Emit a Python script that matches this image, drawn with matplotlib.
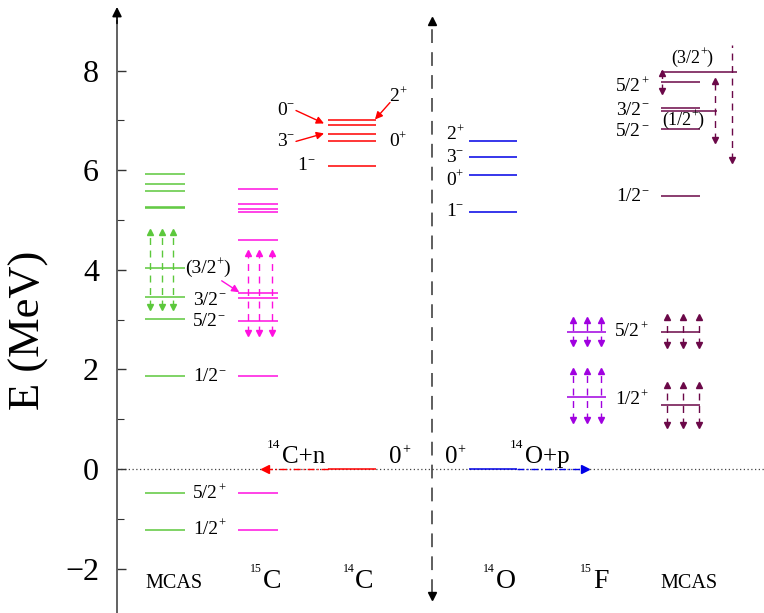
import matplotlib
matplotlib.use("Agg")
import matplotlib.pyplot as plt

plt.rcParams["font.family"] = ["Liberation Serif", "DejaVu Serif"]

# pixel <-> energy mapping of the picture (0 MeV at row 469, 49.79 px per MeV)
PX_PER_MEV = 49.79
ROW_ZERO = 469.0
Y_BOTTOM = (ROW_ZERO - 613.0) / PX_PER_MEV
Y_TOP = ROW_ZERO / PX_PER_MEV

GREEN = "#5cc83c"
MAGENTA = "#ff10e0"
RED = "#ff0000"
BLUE = "#0000e6"
PURPLE = "#a000e0"
MAROON = "#6b0848"

# level energies (MeV)
mcas_c_levels = [5.92, 5.73, 5.59, 5.27, 5.24, 4.03, 3.45, 3.02, 1.86, -0.49, -1.22]
c15_levels = [5.63, 5.32, 5.22, 5.17, 4.60, 3.54, 3.44, 2.98, 1.87, -0.49, -1.22]
c14_levels = [7.01, 6.90, 6.73, 6.59, 6.09, 0.0]
o14_levels = [6.58, 6.27, 5.91, 5.17, 0.0]
f15_levels = [2.76, 1.45]
mcas_f_levels = [7.77, 7.25, 6.83, 5.49, 2.76, 1.29]
mcas_f_long = [7.98, 7.20]

# resonance widths (low, high) in MeV
mcas_c_width = (3.26, 4.77)
c15_width = (2.73, 4.34)
f15_widths = [(2.53, 3.00), (0.98, 1.96)]
mcas_f_widths = [(2.49, 3.06), (0.88, 1.69)]
mcas_f_half_width = (6.61, 7.79)
mcas_f_three_half_width = (6.21, 8.52)
mcas_f_five_half_width = (7.60, 7.95)

# spin labels: (text, superscript, energy)
mcas_c_labels = [("3/2", "\u2212", 3.39), ("5/2", "\u2212", 2.96), ("1/2", "\u2212", 1.85),
                 ("5/2", "+", -0.50), ("1/2", "+", -1.21)]
c14_left_labels = [("0", "\u2212", 7.20), ("3", "\u2212", 6.58)]
o14_labels = [("2", "+", 6.71), ("3", "\u2212", 6.26), ("0", "+", 5.80), ("1", "\u2212", 5.17)]
mcas_f_labels = [("5/2", "+", 7.68), ("3/2", "\u2212", 7.21), ("5/2", "\u2212", 6.77), ("1/2", "\u2212", 5.47)]
f15_labels = [("5/2", "+", 2.76), ("1/2", "+", 1.39)]

columns = ["MCAS", "15C", "14C", "14O", "15F", "MCAS"]

fig = plt.figure(figsize=(7.64, 6.13), dpi=100)
ax = fig.add_axes([0, 0, 1, 1])
ax.set_xlim(0, 764)
ax.set_ylim(Y_BOTTOM, Y_TOP)
for side in ("top", "right", "bottom"):
    ax.spines[side].set_visible(False)
ax.spines["left"].set_position(("data", 117))
ax.spines["left"].set_bounds(Y_BOTTOM, 9.0)
ax.spines["left"].set_color("#555555")
ax.spines["left"].set_linewidth(1.3)
ax.annotate("", xy=(117, 9.28), xytext=(117, 8.95),
            arrowprops=dict(arrowstyle="-|>", color="black", lw=1.2,
                            mutation_scale=14, shrinkA=0, shrinkB=0))
ax.set_xticks([])
ax.set_yticks([-2, 0, 2, 4, 6, 8])
ax.set_yticks([-1, 1, 3, 5, 7], minor=True)
ax.tick_params(axis="y", which="major", direction="in", length=6.5, width=1,
               labelsize=23, pad=13, color="#333333")
ax.tick_params(axis="y", which="minor", direction="in", length=5, width=0.8, color="#333333")
ax.text(29, (ROW_ZERO - 330) / PX_PER_MEV, "E (MeV)", fontsize=32, rotation=90,
        ha="center", va="center")


def spin_label(x, y, main, sup, size=14, supsize=9, tail=""):
    t = ax.text(x, y, main, fontsize=size, ha="left", va="center")
    s = ax.annotate(sup, xy=(1.0, 0.80), xycoords=t, fontsize=supsize, ha="left", va="center")
    if tail:
        ax.annotate(tail, xy=(1.0, 0.5), xycoords=(s, t), fontsize=size, ha="left", va="center")


def width_bars(xs, lo, hi, color, up=True, down=True):
    for x in xs:
        ax.plot([x, x], [lo, hi], color=color, lw=1.0, ls=(0, (5, 4)))
        if up:
            ax.plot(x, hi, marker="^", ms=4, color=color, mec=color)
        if down:
            ax.plot(x, lo, marker="v", ms=4, color=color, mec=color)


def pointer(x0, y0, x1, y1, color):
    ax.annotate("", xy=(x1, y1), xytext=(x0, y0),
                arrowprops=dict(arrowstyle="-|>", color=color, lw=1.0,
                                mutation_scale=11, shrinkA=0, shrinkB=0))


# zero line and separator
ax.plot([117, 764], [0, 0], color="#444444", lw=0.9, ls=(0, (1, 2)), zorder=1)
ax.plot([432, 432], [-2.50, 8.95], color="#333333", lw=1.1, ls=(0, (9, 6)))
ax.plot(432, 9.0, marker="^", ms=6, color="black")
ax.plot(432, -2.55, marker="v", ms=6, color="black")

# carbon side
ax.hlines(mcas_c_levels, 145, 185, colors=GREEN, lw=1.1)
width_bars([150, 161.7, 173.3], *mcas_c_width, GREEN)
ax.hlines(c15_levels, 238, 278, colors=MAGENTA, lw=1.1)
width_bars([248.3, 259.3, 271.7], *c15_width, MAGENTA)
ax.hlines(c14_levels, 328, 376, colors=RED, lw=1.1, zorder=3)
ax.plot([328, 268], [0, 0], color=RED, lw=1.0, ls=(0, (5, 2, 1, 2)), zorder=3)
ax.plot(265, 0, marker="<", ms=6, color=RED, zorder=3)

spin_label(185, 4.03, "(3/2", "+", tail=")")
for main, sup, e in mcas_c_labels:
    spin_label(193, e, main, sup)
pointer(221.7, 3.78, 239.3, 3.55, MAGENTA)

for main, sup, e in c14_left_labels:
    spin_label(277, e, main, sup)
spin_label(297, 6.09, "1", "\u2212")
spin_label(389, 7.48, "2", "+")
spin_label(389, 6.58, "0", "+")
pointer(296, 7.20, 324, 6.94, RED)
pointer(296, 6.58, 324, 6.74, RED)
pointer(390, 7.36, 375, 7.02, RED)

# oxygen / fluorine side
ax.hlines(o14_levels, 469, 517, colors=BLUE, lw=1.1, zorder=3)
ax.plot([517, 582], [0, 0], color=BLUE, lw=1.0, ls=(0, (5, 2, 1, 2)), zorder=3)
ax.plot(585, 0, marker=">", ms=6, color=BLUE, zorder=3)
for main, sup, e in o14_labels:
    spin_label(446, e, main, sup)

ax.hlines(f15_levels, 567, 606, colors=PURPLE, lw=1.1)
for (lo, hi) in f15_widths:
    width_bars([572.7, 586.7, 600.7], lo, hi, PURPLE)
for main, sup, e in f15_labels:
    spin_label(615, e, main, sup)

ax.hlines(mcas_f_levels, 661, 700, colors=MAROON, lw=1.1)
ax.hlines(mcas_f_long[0], 661, 737, colors=MAROON, lw=1.1)
ax.hlines(mcas_f_long[1], 661, 717, colors=MAROON, lw=1.1)
for (lo, hi) in mcas_f_widths:
    width_bars([666.7, 683.3, 699.3], lo, hi, MAROON)
width_bars([715], *mcas_f_half_width, MAROON)
width_bars([732], *mcas_f_three_half_width, MAROON, up=False)
width_bars([662], *mcas_f_five_half_width, MAROON)
for main, sup, e in mcas_f_labels:
    spin_label(616, e, main, sup)
spin_label(671, 8.25, "(3/2", "+", size=13, supsize=8.5, tail=")")
spin_label(662, 7.01, "(1/2", "+", size=13, supsize=8.5, tail=")")

# threshold labels
base = (ROW_ZERO - 463.3) / PX_PER_MEV
sup_base = (ROW_ZERO - 448.3) / PX_PER_MEV
ax.text(281.7, base, "C+n", fontsize=18, va="baseline", ha="left")
ax.text(280.5, sup_base, "14", fontsize=9.5, va="baseline", ha="right")
ax.text(525, base, "O+p", fontsize=18, va="baseline", ha="left")
ax.text(523.5, sup_base, "14", fontsize=9.5, va="baseline", ha="right")
for x in (389.3, 445):
    t = ax.text(x, base, "0", fontsize=18, va="baseline", ha="left")
    ax.annotate("+", xy=(1.0, 0.85), xycoords=t, fontsize=10, ha="left", va="center")

# column labels
lab_base = (ROW_ZERO - 588.3) / PX_PER_MEV
lab_sup = (ROW_ZERO - 572.3) / PX_PER_MEV
ax.text(174, lab_base, columns[0], fontsize=14.5, ha="center", va="baseline")
ax.text(689, lab_base, columns[5], fontsize=14.5, ha="center", va="baseline")
for name, x in zip(columns[1:5], (263, 355.3, 495.6, 593)):
    ax.text(x, lab_base, name[2:], fontsize=20, ha="left", va="baseline")
    ax.text(x - 1, lab_sup, name[:2], fontsize=8.5, ha="right", va="baseline")

fig.savefig("out.png", dpi=100)
